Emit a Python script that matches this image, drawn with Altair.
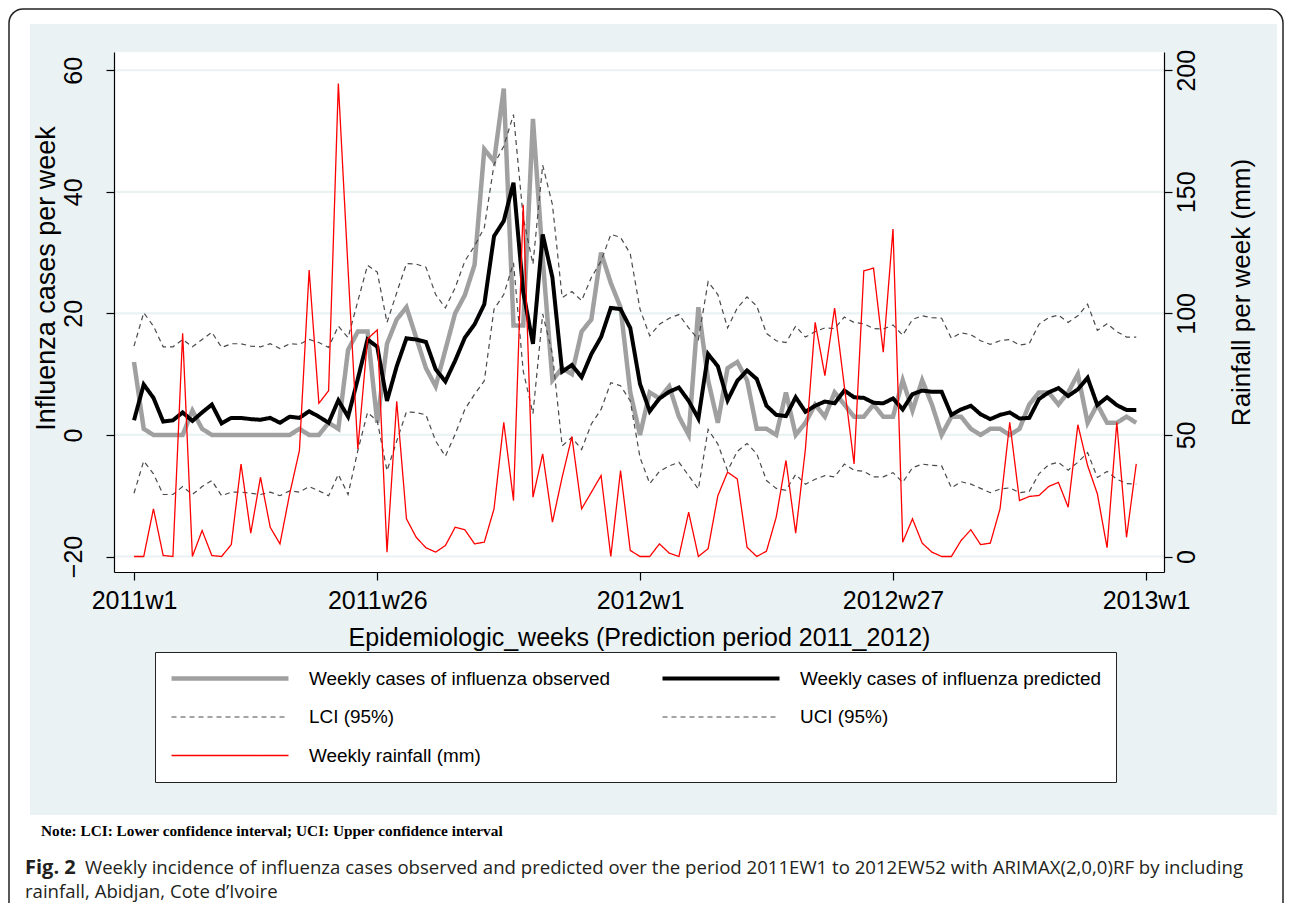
import altair as alt
import pandas as pd

# ---------------- data ----------------
weeks = list(range(104))  # 0 = 2011w1 ... 103 = 2012w52

observed = [12, 1, 0, 0, 0, 0, 4, 1, 0, 0,
            0, 0, 0, 0, 0, 0, 0, 1, 0, 0,
            2, 1, 14, 17, 17, 2, 15, 19, 21, 16,
            11, 8, 14, 20, 23, 28, 47, 45, 57, 18,
            18, 52, 29, 9, 11, 10, 17, 19, 30, 25,
            21, 7, 0, 7, 6, 8, 3, 0, 21, 9,
            2, 11, 12, 9, 1, 1, 0, 7, 0, 2,
            5, 3, 7, 5, 3, 3, 5, 3, 3, 9,
            4, 9, 5, 0, 3, 3, 1, 0, 1, 1,
            0, 1, 5, 7, 7, 5, 7, 10, 2, 5,
            2, 2, 3, 2]

predicted = [2.4, 8.3, 6.1, 2.2, 2.4, 3.7, 2.3, 3.7, 5.0, 1.9,
             2.8, 2.8, 2.6, 2.5, 2.8, 2.0, 3.0, 2.8, 3.9, 3.0,
             2.0, 5.7, 3.0, 9.2, 15.7, 14.5, 5.6, 11.3, 15.9, 15.7,
             15.3, 10.8, 8.8, 12.2, 16.0, 18.2, 21.5, 32.7, 35.2, 41.5,
             23.5, 15.0, 33.0, 25.9, 10.4, 11.5, 9.5, 13.3, 16.1, 20.9,
             20.7, 17.6, 8.4, 3.9, 6.0, 7.1, 7.8, 5.6, 2.7, 13.3,
             11.3, 5.7, 8.9, 10.6, 9.2, 4.8, 3.3, 3.1, 6.2, 3.8,
             4.8, 5.5, 5.2, 7.3, 6.2, 6.1, 5.3, 5.2, 6.0, 4.2,
             6.7, 7.3, 7.1, 7.1, 3.3, 4.2, 4.8, 3.4, 2.6, 3.3,
             3.7, 2.7, 2.8, 5.9, 7.0, 7.7, 6.4, 7.5, 9.4, 4.9,
             6.2, 4.9, 4.1, 4.1]

lci = [-9.6, -4.3, -6.4, -9.8, -9.8, -8.5, -9.8, -8.5, -7.5, -10.0,
       -9.4, -9.4, -9.6, -9.8, -9.4, -10.0, -9.2, -9.4, -8.5, -9.2,
       -10.0, -6.5, -9.8, -2.6, 3.7, 2.3, -5.9, -1.0, 3.8, 3.7,
       3.3, -1.0, -3.5, 0.1, 4.2, 6.7, 8.9, 20.7, 23.1, 28.3,
       10.5, 3.5, 19.9, 13.3, -1.8, -0.4, -2.4, 1.8, 4.2, 8.6,
       8.1, 5.6, -3.7, -8.0, -6.0, -5.1, -4.5, -6.7, -8.9, 0.9,
       -1.5, -5.9, -2.7, -1.4, -3.1, -7.5, -8.8, -9.1, -6.5, -8.1,
       -7.3, -6.7, -6.9, -4.8, -5.8, -6.0, -6.9, -6.9, -6.2, -7.8,
       -5.4, -4.8, -5.0, -5.1, -8.7, -7.7, -8.1, -8.8, -9.5, -8.9,
       -8.7, -9.5, -9.3, -6.4, -4.9, -4.5, -5.8, -4.5, -2.9, -7.0,
       -6.0, -7.3, -8.0, -8.1]

uci = [14.6, 20.1, 17.9, 14.5, 14.5, 15.7, 14.5, 15.7, 16.9, 14.4,
       15.0, 15.0, 14.6, 14.5, 15.0, 14.2, 15.0, 14.9, 15.7, 15.2,
       14.4, 17.9, 16.0, 22.0, 27.9, 26.8, 18.5, 23.4, 28.2, 28.1,
       27.6, 23.1, 20.9, 24.2, 28.6, 31.1, 34.1, 44.5, 47.5, 52.7,
       35.7, 28.1, 44.4, 37.9, 22.6, 23.6, 22.1, 25.9, 28.6, 33.0,
       32.5, 29.8, 20.7, 16.3, 18.2, 19.2, 19.8, 17.6, 15.7, 25.2,
       23.1, 17.6, 20.9, 22.7, 21.2, 16.7, 15.5, 15.2, 17.9, 16.1,
       17.0, 17.6, 17.5, 19.4, 18.5, 18.3, 17.5, 17.4, 18.1, 16.4,
       19.0, 19.6, 19.3, 19.2, 15.9, 16.8, 16.5, 15.5, 14.9, 15.5,
       15.7, 14.8, 15.0, 18.2, 19.3, 19.7, 18.5, 19.6, 21.5, 17.2,
       18.3, 17.0, 16.1, 16.1]

rainfall = [0, 0, 19.6, 0.4, 0, 91.8, 0, 10.7, 0.4, 0,
            4.9, 38.0, 9.6, 32.6, 12.0, 5.2, 25.8, 43.6, 117.8, 63.0,
            68.2, 194.5, 118.0, 44.2, 89.5, 93.2, 1.8, 63.8, 15.5, 7.9,
            3.6, 1.8, 4.5, 12.0, 11.0, 5.2, 5.9, 19.6, 55.2, 23.0,
            144.7, 24.4, 42.2, 14.1, 32.6, 49.3, 19.6, 26.4, 33.3, 0,
            35.3, 2.5, 0, 0, 5.2, 1.4, 0, 18.2, 0, 3.2,
            25.0, 34.7, 31.9, 3.8, 0, 2.2, 16.2, 39.5, 9.6, 44.2,
            96.3, 74.4, 102.2, 70.0, 38.1, 117.5, 118.6, 84.0, 134.7, 5.9,
            15.5, 5.5, 1.8, 0, 0, 6.6, 11.0, 4.9, 5.5, 19.6,
            55.2, 23.0, 24.7, 25.1, 28.8, 30.5, 20.3, 54.2, 37.4, 25.8,
            3.6, 55.2, 7.9, 38.1]

OBS = "Weekly cases of influenza observed"
PRED = "Weekly cases of influenza predicted"
LCI = "LCI (95%)"
UCI = "UCI (95%)"
RAIN = "Weekly rainfall (mm)"

# legend is filled column by column: col 1 = observed, LCI, rainfall; col 2 = predicted, UCI
series_names = [OBS, LCI, RAIN, PRED, UCI]
series_colors = ["#A0A0A0", "#4A4A4A", "#FF0000", "#000000", "#4A4A4A"]
series_widths = [4.5, 1.2, 1.3, 4.0, 1.2]
series_dashes = [[1, 0], [5, 4], [1, 0], [1, 0], [5, 4]]

tick_weeks = [0, 25, 52, 78, 104]
tick_labels = ["2011w1", "2011w26", "2012w1", "2012w27", "2013w1"]
left_ticks = [-20, 0, 20, 40, 60]
right_ticks = [0, 50, 100, 150, 200]

x_title = "Epidemiologic_weeks (Prediction period 2011_2012)"
left_title = "Influenza cases per week"
right_title = "Rainfall per week (mm)"
note_text = "Note: LCI: Lower confidence interval; UCI: Upper confidence interval"
fig_label = "Fig. 2"
caption_1 = ("Weekly incidence of influenza cases observed and predicted over the period "
             "2011EW1 to 2012EW52 with ARIMAX(2,0,0)RF by including")
caption_2 = "rainfall, Abidjan, Cote d\u2019Ivoire"

# ---------------- tables ----------------
rows = []
for name, vals in [(OBS, observed), (PRED, predicted), (LCI, lci), (UCI, uci)]:
    for w, v in zip(weeks, vals):
        rows.append({"week": w, "series": name, "value": v})
df_cases = pd.DataFrame(rows)
df_rain = pd.DataFrame({"week": weeks, "series": RAIN, "value": rainfall})
df_grid = pd.DataFrame({"v": left_ticks})
one = pd.DataFrame({"k": [0]})

# ---------------- style ----------------
FONT = "Liberation Sans"
BG = "#EAF2F3"
PW, PH = 1050, 520

label_expr = "".join(f"datum.value == {w} ? '{l}' : " for w, l in zip(tick_weeks, tick_labels)) + "''"

x_axis = alt.Axis(values=tick_weeks, labelExpr=label_expr, title=x_title, grid=False,
                  domainColor="black", domainWidth=1.2, tickColor="black", tickWidth=1.2,
                  tickSize=8, labelPadding=8, labelFont=FONT, labelFontSize=25,
                  labelColor="black", labelBaseline="top", labelAlign="center",
                  labelFlush=False, labelOverlap=False,
                  titleFont=FONT, titleFontSize=25, titleFontWeight="normal",
                  titleColor="black", titleBaseline="alphabetic", titleAlign="center",
                  titleX=525, titleY=73, zindex=1)

def y_axis(orient, values, title, label_pad, title_x, title_y, title_size):
    return alt.Axis(orient=orient, values=values, grid=False,
                    domainColor="black", domainWidth=1.2, tickColor="black", tickWidth=1.2,
                    tickSize=8, labelAngle=270, labelAlign="center", labelBaseline="middle",
                    labelPadding=label_pad, labelFont=FONT, labelFontSize=25,
                    labelColor="black", labelFlush=False, labelOverlap=False,
                    title=title, titleAngle=270, titleFont=FONT, titleFontSize=title_size,
                    titleFontWeight="normal", titleColor="black", titleAlign="center",
                    titleBaseline="alphabetic", titleX=title_x, titleY=title_y, zindex=1)

left_axis = y_axis("left", left_ticks, left_title, 33, -60, 226, 27)
right_axis = y_axis("right", right_ticks, right_title, 14, 85, 240, 26)

x_scale = alt.Scale(domain=[-2.055, 105.85], nice=False, zero=False)
yl_scale = alt.Scale(domain=[-22.55, 63.0], nice=False, zero=False)
yr_scale = alt.Scale(domain=[-6.375, 207.5], nice=False, zero=False)

LEG = alt.Legend(orient="none", legendX=41, legendY=600, columns=2, symbolType="stroke",
                 symbolSize=13689, clipHeight=25, rowPadding=13.5, columnPadding=49,
                 labelOffset=18, labelFont=FONT, labelFontSize=18.9, labelColor="black",
                 labelLimit=600, labelBaseline="middle", padding=14,
                 strokeColor="#222222", fillColor="white", zindex=1)

X = alt.X("week:Q", scale=x_scale, axis=x_axis)
COLOR = alt.Color("series:N", scale=alt.Scale(domain=series_names, range=series_colors),
                  legend=LEG, title=None)
DASH = alt.StrokeDash("series:N", scale=alt.Scale(domain=series_names, range=series_dashes),
                      legend=LEG, title=None)
WIDTH = alt.StrokeWidth("series:N", scale=alt.Scale(type="ordinal", domain=series_names,
                                                    range=series_widths),
                        legend=LEG, title=None)

YL = alt.Y("value:Q", scale=yl_scale, axis=left_axis)

# ---------------- layers ----------------
bg = alt.Chart(one).mark_rect(color=BG).encode(
    x=alt.value(-84), x2=alt.value(1163), y=alt.value(-28), y2=alt.value(763))
plot_bg = alt.Chart(one).mark_rect(color="white").encode(
    x=alt.value(0), x2=alt.value(PW), y=alt.value(0), y2=alt.value(PH))
frame = alt.Chart(one).mark_rect(fill="white", fillOpacity=0, stroke="#222222",
                                 strokeWidth=1.5, cornerRadius=14).encode(
    x=alt.value(-105), x2=alt.value(1169), y=alt.value(-43), y2=alt.value(1000))

grid = alt.Chart(df_grid).mark_rule(color=BG, strokeWidth=2.2).encode(
    y=alt.Y("v:Q", scale=yl_scale, axis=left_axis))

def case_layer(name):
    return alt.Chart(df_cases).transform_filter(alt.datum.series == name).mark_line().encode(
        x=X, y=YL, color=COLOR, strokeDash=DASH, strokeWidth=WIDTH)

left_group = alt.layer(grid, case_layer(OBS), case_layer(PRED),
                       case_layer(LCI), case_layer(UCI))

rain = alt.Chart(df_rain).mark_line().encode(
    x=X, y=alt.Y("value:Q", scale=yr_scale, axis=right_axis),
    color=COLOR, strokeDash=DASH, strokeWidth=WIDTH)

note = alt.Chart(one).mark_text(text=note_text, font="Liberation Serif", fontSize=15.3,
                                fontWeight="bold", align="left", baseline="alphabetic",
                                color="black").encode(x=alt.value(-73), y=alt.value(784))
fig_t = alt.Chart(one).mark_text(text=fig_label, font="Open Sans", fontSize=20,
                                 fontWeight="bold", align="left", baseline="alphabetic",
                                 color="#231F20").encode(x=alt.value(-89), y=alt.value(822))
cap1 = alt.Chart(one).mark_text(text=caption_1, font="Open Sans", fontSize=18.6,
                                align="left", baseline="alphabetic",
                                color="#231F20").encode(x=alt.value(-29), y=alt.value(822))
cap2 = alt.Chart(one).mark_text(text=caption_2, font="Open Sans", fontSize=18.6,
                                align="left", baseline="alphabetic",
                                color="#231F20").encode(x=alt.value(-89), y=alt.value(846))

chart = alt.layer(bg, plot_bg, frame, left_group, rain, note, fig_t, cap1, cap2).resolve_scale(
    y="independent"
).properties(
    width=PW, height=PH,
    padding={"left": 106, "top": 44, "right": 121, "bottom": 331},
    autosize=alt.AutoSizeParams(type="none"),
    background="white",
).configure_view(strokeWidth=0)

chart.save("out.html", embed_options={"renderer": "svg", "actions": False})
